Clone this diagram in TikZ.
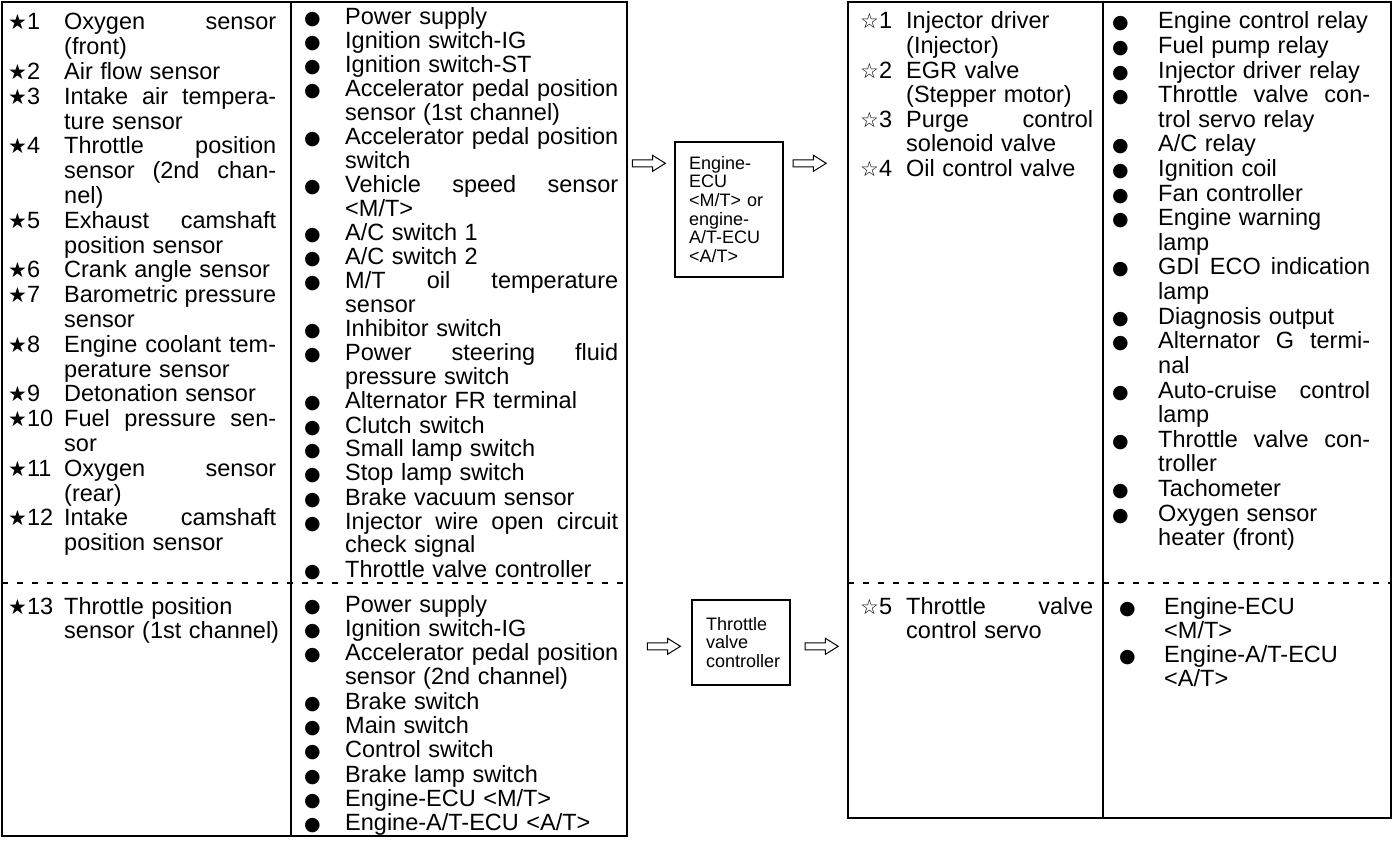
\documentclass[tikz,border=0pt]{standalone}
\usepackage{fontspec}
\setmainfont{Liberation Sans}
\newfontfamily\symfont{DejaVu Sans}
\usetikzlibrary{positioning,shapes.arrows}

\newcommand\bstar{{\symfont\fontsize{21}{21}\selectfont ★}}
\newcommand\wstar{{\symfont\fontsize{21}{21}\selectfont ☆}}
\newcommand\blt{{\symfont\fontsize{19}{19}\selectfont ●}}
\newcommand\tabsetup{\tolerance=10000 \hyphenpenalty=10000 \exhyphenpenalty=10000
  \spaceskip=0.32em plus 3em minus 0.06em\relax}
\newcommand\entry[3]{\noindent\hangindent=#1\hangafter=1\relax
  \makebox[#1][l]{#2}\ignorespaces#3\par}

\begin{document}
\begin{tikzpicture}[x=1pt,y=-1pt,
  listcell/.style={anchor=base west,inner sep=0pt,align=justify,
    font=\fontsize{23.5}{#1}\selectfont,
    execute at begin node={\fontsize{23.5}{#1}\selectfont\tabsetup}},
  tabline/.style={line width=1.6pt},
  splitline/.style={line width=1.4pt,dash pattern=on 6pt off 9pt},
  ctrlbox/.style={draw,line width=1.4pt,inner sep=0pt,align=left,
    font=\fontsize{18}{18.7}\selectfont,
    execute at begin node={\fontsize{18}{18.7}\selectfont}},
  blockarrow/.style={single arrow,draw,line width=1pt,inner xsep=0pt,inner ysep=3pt,
    minimum height=33pt,single arrow head extend=4.5pt,single arrow tip angle=64}]
  \useasboundingbox (0,0) rectangle (1396,840);

  % input table
  \draw[tabline] (2,2) rectangle (627,836);
  \draw[tabline] (291,2) -- (291,836);
  \draw[splitline] (2,583) -- (627,583);

  \node[listcell=24.8,text width=268pt] (sens) at (8,30) {%
    \entry{56pt}{\bstar1}{Oxygen sensor\linebreak (front)}%
    \entry{56pt}{\bstar2}{Air flow sensor}%
    \entry{56pt}{\bstar3}{Intake air tempera-\linebreak ture sensor}%
    \entry{56pt}{\bstar4}{Throttle position\linebreak sensor (2nd chan-\linebreak nel)}%
    \entry{56pt}{\bstar5}{Exhaust camshaft\linebreak position sensor}%
    \entry{56pt}{\bstar6}{Crank angle sensor}%
    \entry{56pt}{\bstar7}{Barometric pressure\linebreak sensor}%
    \entry{56pt}{\bstar8}{Engine coolant tem-\linebreak perature sensor}%
    \entry{56pt}{\bstar9}{Detonation sensor}%
    \entry{56pt}{\bstar10}{Fuel pressure sen-\linebreak sor}%
    \entry{56pt}{\bstar11}{Oxygen sensor\linebreak (rear)}%
    \entry{56pt}{\bstar12}{Intake camshaft\linebreak position sensor}};
  \node[listcell=24,text width=314pt] (sig) at (304,25) {%
    \entry{41pt}{\blt}{Power supply}%
    \entry{41pt}{\blt}{Ignition switch-IG}%
    \entry{41pt}{\blt}{Ignition switch-ST}%
    \entry{41pt}{\blt}{Accelerator pedal position\linebreak sensor (1st channel)}%
    \entry{41pt}{\blt}{Accelerator pedal position\linebreak switch}%
    \entry{41pt}{\blt}{Vehicle speed sensor\linebreak <M/T>}%
    \entry{41pt}{\blt}{A/C switch 1}%
    \entry{41pt}{\blt}{A/C switch 2}%
    \entry{41pt}{\blt}{M/T oil temperature\linebreak sensor}%
    \entry{41pt}{\blt}{Inhibitor switch}%
    \entry{41pt}{\blt}{Power steering fluid\linebreak pressure switch}%
    \entry{41pt}{\blt}{Alternator FR terminal}%
    \entry{41pt}{\blt}{Clutch switch}%
    \entry{41pt}{\blt}{Small lamp switch}%
    \entry{41pt}{\blt}{Stop lamp switch}%
    \entry{41pt}{\blt}{Brake vacuum sensor}%
    \entry{41pt}{\blt}{Injector wire open circuit\linebreak check signal}%
    \entry{41pt}{\blt}{Throttle valve controller}};
  \node[listcell=24.5,text width=278pt] (tps) at (8,614) {%
    \entry{56pt}{\bstar13}{Throttle position\\ sensor (1st channel)}};
  \node[listcell=24.3,text width=314pt] (tsig) at (304,612) {%
    \entry{41pt}{\blt}{Power supply}%
    \entry{41pt}{\blt}{Ignition switch-IG}%
    \entry{41pt}{\blt}{Accelerator pedal position\linebreak sensor (2nd channel)}%
    \entry{41pt}{\blt}{Brake switch}%
    \entry{41pt}{\blt}{Main switch}%
    \entry{41pt}{\blt}{Control switch}%
    \entry{41pt}{\blt}{Brake lamp switch}%
    \entry{41pt}{\blt}{Engine-ECU <M/T>}%
    \entry{41pt}{\blt}{Engine-A/T-ECU <A/T>}};

  % control units
  \node[ctrlbox,minimum width=108pt,minimum height=135pt,text width=80pt] (ecu)
    at (729,209.5) {Engine-\\ECU\\<M/T> or\\engine-\\A/T-ECU\\<A/T>};
  \node[ctrlbox,minimum width=98pt,minimum height=85pt,text width=70pt] (tvc)
    at (741,642.5) {Throttle\\valve\\controller};
  \node[blockarrow,anchor=east] (ecuin) at ([xshift=-8pt,yshift=-22pt]ecu.north west) {};
  \node[blockarrow,anchor=west] (ecuout) at ([xshift=9pt,yshift=-22pt]ecu.north east) {};
  \node[blockarrow,anchor=east] (tvcin) at ([xshift=-10pt,yshift=-47pt]tvc.north west) {};
  \node[blockarrow,anchor=west] (tvcout) at ([xshift=14pt,yshift=-47pt]tvc.north east) {};

  % output table
  \draw[tabline] (848,2) rectangle (1391,818);
  \draw[tabline] (1103,2) -- (1103,818);
  \draw[splitline] (848,583) -- (1391,583);

  \node[listcell=24.6,text width=233pt] (act) at (860,29) {%
    \entry{46pt}{\wstar1}{Injector driver\\ (Injector)}%
    \entry{46pt}{\wstar2}{EGR valve\\ (Stepper motor)}%
    \entry{46pt}{\wstar3}{Purge control\linebreak solenoid valve}%
    \entry{46pt}{\wstar4}{Oil control valve}};
  \node[listcell=24.6,text width=258pt] (outsig) at (1112,29) {%
    \entry{46pt}{\blt}{Engine control relay}%
    \entry{46pt}{\blt}{Fuel pump relay}%
    \entry{46pt}{\blt}{Injector driver relay}%
    \entry{46pt}{\blt}{Throttle valve con-\linebreak trol servo relay}%
    \entry{46pt}{\blt}{A/C relay}%
    \entry{46pt}{\blt}{Ignition coil}%
    \entry{46pt}{\blt}{Fan controller}%
    \entry{46pt}{\blt}{Engine warning\\ lamp}%
    \entry{46pt}{\blt}{GDI ECO indication\linebreak lamp}%
    \entry{46pt}{\blt}{Diagnosis output}%
    \entry{46pt}{\blt}{Alternator G termi-\linebreak nal}%
    \entry{46pt}{\blt}{Auto-cruise control\linebreak lamp}%
    \entry{46pt}{\blt}{Throttle valve con-\linebreak troller}%
    \entry{46pt}{\blt}{Tachometer}%
    \entry{46pt}{\blt}{Oxygen sensor\\ heater (front)}};
  \node[listcell=24.6,text width=233pt] (servo) at (860,614) {%
    \entry{46pt}{\wstar5}{Throttle valve\linebreak control servo}};
  \node[listcell=24,text width=252pt] (tout) at (1119,614) {%
    \entry{45pt}{\blt}{Engine-ECU\\ <M/T>}%
    \entry{45pt}{\blt}{Engine-A/T-ECU\\ <A/T>}};
\end{tikzpicture}
\end{document}
